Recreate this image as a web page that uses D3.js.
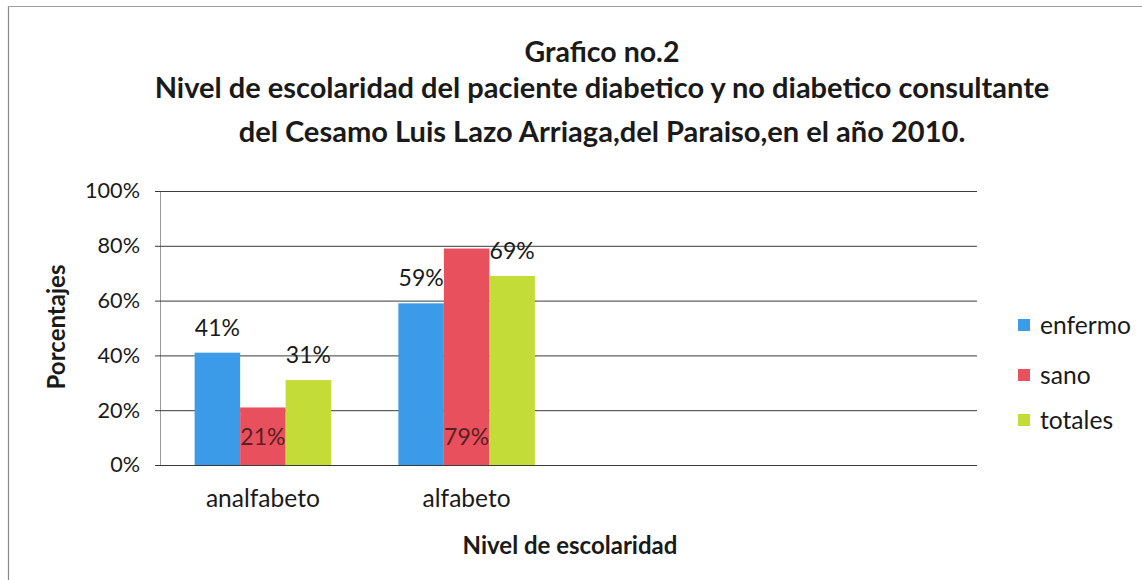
<!DOCTYPE html>
<html>
<head>
<meta charset="utf-8">
<script src="https://cdn.jsdelivr.net/npm/d3@7"></script>
<style>
  html, body { margin: 0; padding: 0; background: #fff; }
  svg { display: block; }
  text { font-family: Lato, "Open Sans", sans-serif; fill: #1a1a1a; }
</style>
</head>
<body>
<svg id="chart" width="1142" height="580"></svg>
<script>
// ---- data ----
const titleLines = [
  "Grafico no.2",
  "Nivel de escolaridad del paciente diabetico y no diabetico consultante",
  "del Cesamo Luis Lazo Arriaga,del Paraiso,en el año 2010."
];
const categories = ["analfabeto", "alfabeto"];
const emptySlots = ["slot3", "slot4"];
const seriesNames = ["enfermo", "sano", "totales"];
const enfermo = [0.41, 0.59];
const sano = [0.21, 0.79];
const totales = [0.31, 0.69];
const yTicks = [0, 0.2, 0.4, 0.6, 0.8, 1.0];
const xAxisTitle = "Nivel de escolaridad";
const yAxisTitle = "Porcentajes";
const colors = ["#3b9be9", "#e8505e", "#c3dc37"];

const seriesValues = [enfermo, sano, totales];

// ---- layout ----
const svg = d3.select("#chart");
const plot = { left: 160, right: 977, top: 191, bottom: 465 };

// helper: size that makes a text node reach a target width
function fitSize(node, target) {
  const fs = parseFloat(d3.select(node).style("font-size"));
  return fs * target / node.getComputedTextLength();
}
function fit(sel, target) {
  sel.each(function () { d3.select(this).style("font-size", fitSize(this, target) + "px"); });
}

// frame
svg.append("line").attr("x1", 8.5).attr("x2", 8.5).attr("y1", 6).attr("y2", 580)
  .attr("stroke", "#8a8a8a").attr("stroke-width", 1.2);
svg.append("line").attr("x1", 8).attr("x2", 1142).attr("y1", 6.5).attr("y2", 6.5)
  .attr("stroke", "#a0a0a0").attr("stroke-width", 1);

// titles
const titleY = [62, 98, 142];
const titleW = [155, 895, 727];
titleLines.forEach((t, i) => {
  const el = svg.append("text").attr("x", 602).attr("y", titleY[i])
    .attr("text-anchor", "middle").style("font-weight", "bold").style("font-size", "24px")
    .text(t);
  fit(el, titleW[i]);
});

// scales
const x0 = d3.scaleBand().domain([...categories, ...emptySlots])
  .range([plot.left, plot.right]).paddingInner(0.33).paddingOuter(0.17);
const x1 = d3.scaleBand().domain(seriesNames).range([0, x0.bandwidth()]);
const y = d3.scaleLinear().domain([0, 1]).range([plot.bottom, plot.top]);

// gridlines + y axis
const yAxis = d3.axisLeft(y).tickValues(yTicks).tickFormat(d3.format(".0%"))
  .tickSize(-(plot.right - plot.left)).tickSizeOuter(0).tickPadding(20);
const gy = svg.append("g").attr("transform", `translate(${plot.left},0)`).call(yAxis);
gy.select(".domain").attr("stroke", "#9a9a9a");
gy.selectAll(".tick line").attr("stroke", "#3a3a3a").attr("stroke-width", 1)
  .attr("x1", -5);
gy.selectAll(".tick text").style("font-size", "21px").style("font-family", "Lato, sans-serif")
  .attr("fill", "#1a1a1a");
const tickSize = fitSize(gy.selectAll(".tick text").filter(d => d === 1).node(), 55);
gy.selectAll(".tick text").style("font-size", tickSize + "px");

// bars
const data = categories.map((c, ci) => ({
  cat: c,
  vals: seriesNames.map((s, si) => ({ s, si, v: seriesValues[si][ci] }))
}));
const groups = svg.append("g").selectAll("g").data(data).join("g")
  .attr("transform", d => `translate(${x0(d.cat)},0)`);
groups.selectAll("rect").data(d => d.vals).join("rect")
  .attr("x", d => x1(d.s)).attr("width", x1.bandwidth())
  .attr("y", d => y(d.v)).attr("height", d => y(0) - y(d.v))
  .attr("fill", d => colors[d.si]);

// data labels
groups.selectAll("text.lbl").data(d => d.vals).join("text").attr("class", "lbl")
  .attr("x", d => x1(d.s) + x1.bandwidth() / 2)
  .attr("y", d => d.s === "sano" ? y(0) - 28 : y(d.v) - 25)
  .attr("dy", "0.35em").attr("text-anchor", "middle")
  .style("font-size", "23px")
  .style("fill", d => d.s === "sano" ? "#5a1f22" : "#1a1a1a")
  .text(d => d3.format(".0%")(d.v));

// x axis category labels
const catLabels = svg.append("g").selectAll("text").data(categories).join("text")
  .attr("x", d => x0(d) + x0.bandwidth() / 2).attr("y", 507)
  .attr("text-anchor", "middle").style("font-size", "20px").text(d => d);
const catSize = fitSize(catLabels.node(), 114);
catLabels.style("font-size", catSize + "px");

// axis titles
const xt = svg.append("text").attr("x", 570).attr("y", 554).attr("text-anchor", "middle")
  .style("font-weight", "bold").style("font-size", "20px").text(xAxisTitle);
fit(xt, 215);
const yt = svg.append("text").attr("transform", "translate(65,327) rotate(-90)")
  .attr("text-anchor", "middle").style("font-weight", "bold").style("font-size", "20px")
  .text(yAxisTitle);
fit(yt, 125);

// legend
const legY = [325, 375, 420];
const leg = svg.append("g").selectAll("g").data(seriesNames).join("g")
  .attr("transform", (d, i) => `translate(1018,${legY[i]})`);
leg.append("rect").attr("x", 0).attr("y", -6).attr("width", 12).attr("height", 12)
  .attr("fill", (d, i) => colors[i]);
const legText = leg.append("text").attr("x", 22).attr("dy", "0.35em").style("font-size", "21px").text(d => d);
const legSize = fitSize(legText.node(), 91);
legText.style("font-size", legSize + "px");
</script>
</body>
</html>
